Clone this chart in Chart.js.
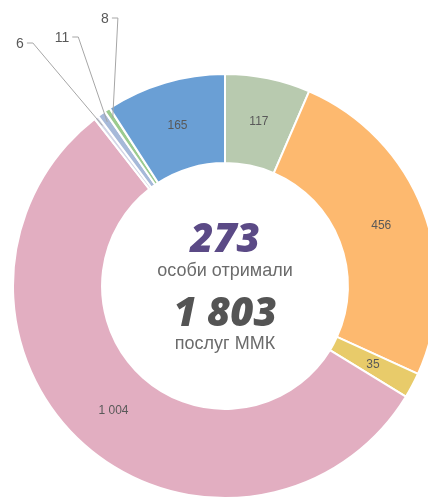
<!DOCTYPE html>
<html>
<head>
<meta charset="utf-8">
<script src="https://cdn.jsdelivr.net/npm/chart.js@4"></script>
<style>
    html, body { margin: 0; padding: 0; background: #fff; overflow: hidden; width: 428px; height: 497px; }
    #wrap { position: absolute; left: 0; top: 0; width: 440px; height: 500px; }
    .center { position: absolute; left: 225px; transform: translateX(-50%); white-space: nowrap; text-align: center; }
    .big { font-family: "Open Sans", "Liberation Sans", sans-serif; font-weight: 800; font-style: italic; font-size: 40px; line-height: 40px; }
    .small { font-family: "Liberation Sans", Arial, sans-serif; font-size: 18px; line-height: 20px; color: #6b6b6b; }
</style>
</head>
<body>
<div id="wrap"><canvas id="donut"></canvas></div>
<div class="center big" style="top:217px; color:#5b4a86;">273</div>
<div class="center small" style="top:260px;">особи отримали</div>
<div class="center big" style="top:291px; color:#545454;">1 803</div>
<div class="center small" style="top:333px;">послуг ММК</div>
<script>
// дані діаграми (за годинниковою стрілкою від верху)
const values = [117, 456, 35, 1004, 6, 11, 8, 165];
const colors = ['#b8caaf', '#fdb96f', '#e8cb6a', '#e2aec1', '#d3d6e6', '#a6b9d9', '#9ccb8f', '#6a9fd5'];

// дрібні сегменти підписуються зовні, зсув мітки від центру кола
const outsideLabels = { 4: [-205, -242], 5: [-163, -248], 6: [-120, -267] };

function fmt(v) {
    return String(v).replace(/\B(?=(\d{3})+(?!\d))/g, ' ');
}

const labelPlugin = {
    id: 'sliceLabels',
    afterDatasetsDraw(chart) {
        const ctx = chart.ctx;
        const arcs = chart.getDatasetMeta(0).data;
        ctx.save();
        ctx.textAlign = 'center';
        ctx.textBaseline = 'middle';
        arcs.forEach((arc, i) => {
            const off = outsideLabels[i];
            if (!off) {
                const p = arc.tooltipPosition();
                ctx.fillStyle = '#595959';
                ctx.font = '12px "Liberation Sans", Arial, sans-serif';
                ctx.fillText(fmt(values[i]), p.x, p.y);
                return;
            }
            const lx = arc.x + off[0];
            const ly = arc.y + off[1];
            ctx.fillStyle = '#595959';
            ctx.font = '14px "Liberation Sans", Arial, sans-serif';
            ctx.fillText(fmt(values[i]), lx, ly);
            // лінія виноски
            const mid = (arc.startAngle + arc.endAngle) / 2;
            const r = arc.outerRadius - 10;
            const sx = lx + ctx.measureText(fmt(values[i])).width / 2 + 3;
            ctx.strokeStyle = '#a6a6a6';
            ctx.lineWidth = 1;
            ctx.beginPath();
            ctx.moveTo(sx, ly - 1);
            ctx.lineTo(sx + 6, ly - 1);
            ctx.lineTo(arc.x + Math.cos(mid) * r, arc.y + Math.sin(mid) * r);
            ctx.stroke();
        });
        ctx.restore();
    }
};

new Chart(document.getElementById('donut'), {
    type: 'doughnut',
    data: {
        labels: values.map(fmt),
        datasets: [{
            data: values,
            backgroundColor: colors,
            borderColor: '#ffffff',
            borderWidth: 2
        }]
    },
    options: {
        responsive: true,
        maintainAspectRatio: false,
        animation: false,
        cutout: '58%',
        layout: { padding: { left: 12, top: 73, right: 2, bottom: 1 } },
        plugins: {
            legend: { display: false },
            tooltip: { enabled: false }
        }
    },
    plugins: [labelPlugin]
});
</script>
</body>
</html>
